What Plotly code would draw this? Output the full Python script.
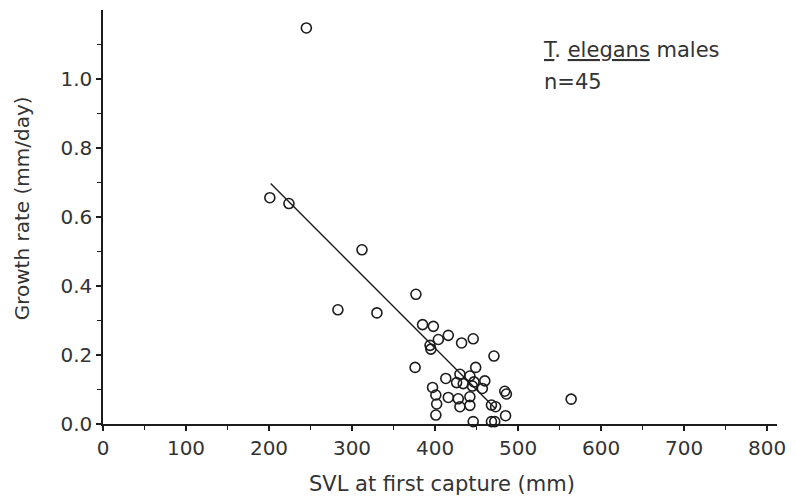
import plotly.graph_objects as go

# Snout-vent length at first capture (mm) and growth rate (mm/day), T. elegans males
svl_mm = [245, 201, 224, 312, 283, 330, 564,
          377, 385, 398, 404, 416, 432, 446, 394, 395, 471,
          376, 449, 430, 413, 442, 447, 460, 426, 434, 457, 397,
          484, 486, 401, 416, 428, 442, 402, 430, 442, 468, 473,
          401, 485, 446, 468, 472, 445]
growth_rate = [1.148, 0.656, 0.639, 0.505, 0.331, 0.322, 0.072,
               0.376, 0.288, 0.283, 0.245, 0.257, 0.235, 0.247, 0.228, 0.217, 0.197,
               0.164, 0.164, 0.144, 0.132, 0.139, 0.122, 0.125, 0.120, 0.117, 0.103, 0.106,
               0.095, 0.087, 0.084, 0.077, 0.073, 0.079, 0.058, 0.050, 0.054, 0.055, 0.050,
               0.026, 0.024, 0.007, 0.007, 0.007, 0.110]

# Least-squares line endpoints
fit_x = [202, 473]
fit_y = [0.697, 0.044]

x_tick_vals = [0, 100, 200, 300, 400, 500, 600, 700, 800]
x_tick_text = ["0", "100", "200", "300", "400", "500", "600", "700", "800"]
x_minor_vals = [50, 150, 250, 350, 450, 550, 650, 750]
y_tick_vals = [0.0, 0.2, 0.4, 0.6, 0.8, 1.0]
y_tick_text = ["0.0", "0.2", "0.4", "0.6", "0.8", "1.0"]
y_minor_vals = [0.1, 0.3, 0.5, 0.7, 0.9, 1.1]

INK = "#1c1c1c"
TEXT = "#333333"
FONT = "DejaVu Sans"

fig = go.Figure()

fig.add_trace(go.Scatter(
    x=fit_x, y=fit_y, mode="lines",
    line=dict(color=INK, width=1.4),
    hoverinfo="skip", showlegend=False,
))

fig.add_trace(go.Scatter(
    x=svl_mm, y=growth_rate, mode="markers",
    marker=dict(symbol="circle-open", size=10, color=INK,
                line=dict(color=INK, width=1.6)),
    cliponaxis=False, showlegend=False,
))

axis_common = dict(
    showgrid=False, zeroline=False, showline=True,
    linecolor=INK, linewidth=1.5,
    ticks="outside", ticklen=5, tickwidth=1.5, tickcolor=INK,
    tickfont=dict(family=FONT, size=20, color=TEXT),
)

fig.update_xaxes(
    range=[0, 812], tickmode="array",
    tickvals=x_tick_vals, ticktext=x_tick_text,
    minor=dict(tickmode="array", tickvals=x_minor_vals, ticks="outside",
               ticklen=4, tickwidth=1.3, tickcolor=INK),
    **axis_common,
)
fig.update_yaxes(
    range=[0, 1.2], tickmode="array",
    tickvals=y_tick_vals, ticktext=y_tick_text,
    minor=dict(tickmode="array", tickvals=y_minor_vals, ticks="outside",
               ticklen=4, tickwidth=1.3, tickcolor=INK),
    **axis_common,
)

fig.update_layout(
    width=796, height=499,
    margin=dict(l=103, r=17, t=10, b=75),
    paper_bgcolor="white", plot_bgcolor="white",
    annotations=[
        dict(text="SVL at first capture (mm)", xref="paper", yref="paper",
             x=0.503, y=0, yshift=-60, xanchor="center", yanchor="middle",
             showarrow=False, font=dict(family=FONT, size=21, color=TEXT)),
        dict(text="Growth rate (mm/day)", xref="paper", yref="paper",
             x=0, xshift=-81, y=0.521, textangle=-90,
             xanchor="center", yanchor="middle",
             showarrow=False, font=dict(family=FONT, size=20, color=TEXT)),
        dict(text="<u>T</u>. <u>elegans</u> males", xref="x", yref="y",
             x=528, y=1.083, xanchor="left", yanchor="middle",
             showarrow=False, font=dict(family=FONT, size=21, color=TEXT)),
        dict(text="n=45", xref="x", yref="y",
             x=529, y=0.99, xanchor="left", yanchor="middle",
             showarrow=False, font=dict(family=FONT, size=21, color=TEXT)),
    ],
)

fig.write_html("out.html")
